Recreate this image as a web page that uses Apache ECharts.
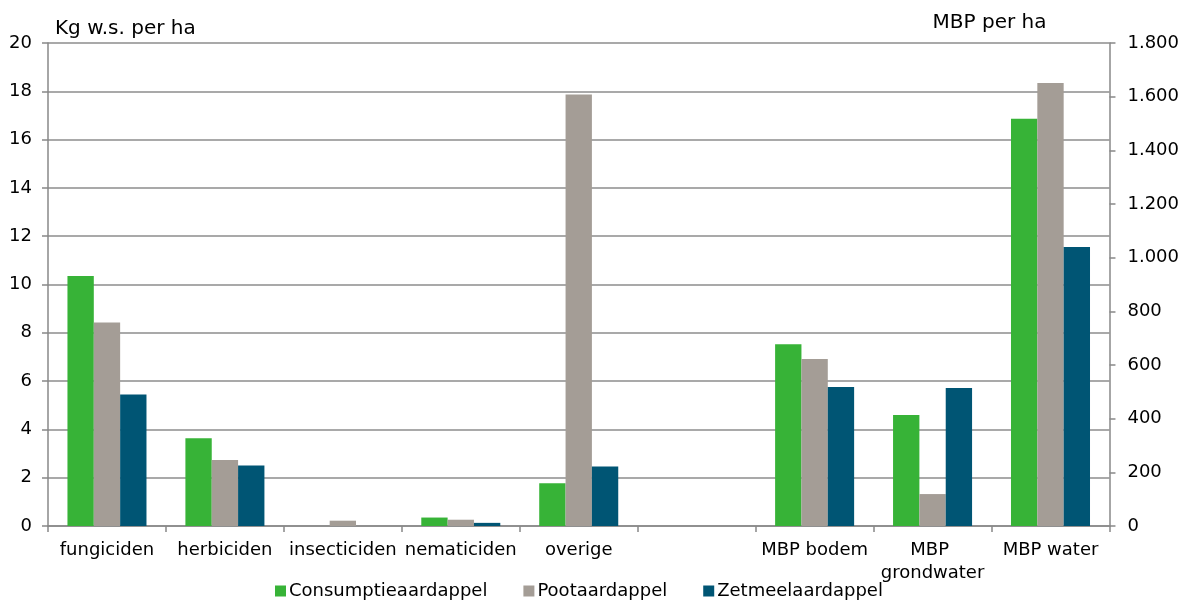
<!DOCTYPE html>
<html>
<head>
<meta charset="utf-8">
<script src="https://cdn.jsdelivr.net/npm/echarts@6/dist/echarts.min.js"></script>
<style>html,body{margin:0;padding:0;background:#fff}#c{width:1182px;height:605px}</style>
</head>
<body>
<div id="c"></div>
<script>
// Categories (index 5 is an empty spacer category)
const categories = ['fungiciden', 'herbiciden', 'insecticiden', 'nematiciden', 'overige', '', 'MBP bodem', 'MBP grondwater', 'MBP water'];
const seriesNames = ['Consumptieaardappel', 'Pootaardappel', 'Zetmeelaardappel'];
// Left axis values (Kg w.s. per ha) for the first five categories
const kgConsumptie = [10.35, 3.63, 0, 0.35, 1.77, null, null, null, null];
const kgPoot       = [8.43, 2.73, 0.22, 0.26, 17.87, null, null, null, null];
const kgZetmeel    = [5.45, 2.51, 0, 0.13, 2.46, null, null, null, null];
// Right axis values (MBP per ha) for the MBP categories
const mbpConsumptie = [null, null, null, null, null, null, 677, 414, 1518];
const mbpPoot       = [null, null, null, null, null, null, 622, 119, 1651];
const mbpZetmeel    = [null, null, null, null, null, null, 518, 514, 1040];
const leftTicks = {min: 0, max: 20, interval: 2};
const rightTicks = {min: 0, max: 1800, interval: 200};

const colors = ['#37B337', '#A49D96', '#005574'];
const font = 'DejaVu Sans';

const chart = echarts.init(document.getElementById('c'), null, {renderer: 'canvas'});
const barCommon = {type: 'bar', barGap: '0%', barCategoryGap: '33%'};
const mk = (name, data, xi, yi, ci) => Object.assign({}, barCommon, {
  name, data, xAxisIndex: xi, yAxisIndex: yi, itemStyle: {color: colors[ci]}
});
chart.setOption({
  animation: false,
  textStyle: {fontFamily: font, color: '#000'},
  grid: {left: 48, right: 72, top: 43, bottom: 79, containLabel: false},
  legend: {
    bottom: 0, left: 270, icon: 'rect', itemWidth: 11, itemHeight: 11, itemGap: 36,
    textStyle: {fontFamily: font, fontSize: 18, color: '#000', padding: [0, 0, 0, -2]},
    data: seriesNames
  },
  xAxis: [{
    type: 'category', data: categories, boundaryGap: true,
    axisLine: {lineStyle: {color: '#888', width: 1.5}},
    axisTick: {show: true, length: 6, alignWithLabel: false, lineStyle: {color: '#888', width: 1.5}},
    axisLabel: {fontFamily: font, fontSize: 18, color: '#000', margin: 13, interval: 0, width: 118, overflow: 'break', lineHeight: 23}
  }, {
    type: 'category', data: categories, show: false
  }],
  yAxis: [{
    type: 'value', min: leftTicks.min, max: leftTicks.max, interval: leftTicks.interval,
    name: 'Kg w.s. per ha', nameLocation: 'end', nameGap: 4,
    nameTextStyle: {fontFamily: font, fontSize: 20, color: '#000', align: 'left', verticalAlign: 'bottom', padding: [0, 0, 0, 7]},
    axisLine: {show: true, lineStyle: {color: '#888', width: 1.5}},
    axisTick: {show: true, length: 6, lineStyle: {color: '#888', width: 1.5}},
    axisLabel: {fontFamily: font, fontSize: 18, color: '#000', margin: 16},
    splitLine: {show: true, lineStyle: {color: '#8c8c8c', width: 1.5}}
  }, {
    type: 'value', position: 'right', min: rightTicks.min, max: rightTicks.max, interval: rightTicks.interval,
    name: 'MBP per ha', nameLocation: 'end', nameGap: 10,
    nameTextStyle: {fontFamily: font, fontSize: 20, color: '#000', align: 'right', verticalAlign: 'bottom', padding: [0, 63, 0, 0]},
    axisLine: {show: true, lineStyle: {color: '#888', width: 1.5}},
    axisTick: {show: true, length: 6, lineStyle: {color: '#888', width: 1.5}},
    axisLabel: {fontFamily: font, fontSize: 18, color: '#000', margin: 18,
      formatter: v => String(v).replace(/\B(?=(\d{3})+(?!\d))/g, '.')},
    splitLine: {show: false}
  }],
  series: [
    mk(seriesNames[0], kgConsumptie, 0, 0, 0),
    mk(seriesNames[1], kgPoot, 0, 0, 1),
    mk(seriesNames[2], kgZetmeel, 0, 0, 2),
    mk(seriesNames[0], mbpConsumptie, 1, 1, 0),
    mk(seriesNames[1], mbpPoot, 1, 1, 1),
    mk(seriesNames[2], mbpZetmeel, 1, 1, 2)
  ]
});
</script>
</body>
</html>
